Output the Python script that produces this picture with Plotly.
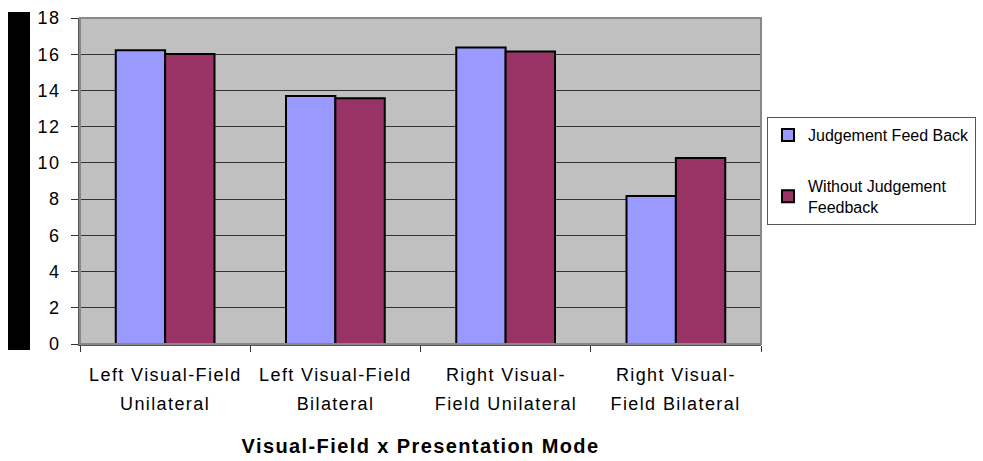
import plotly.graph_objects as go

categories = ["Left Visual-Field<br>Unilateral", "Left Visual-Field<br>Bilateral",
              "Right Visual-<br>Field Unilateral", "Right Visual-<br>Field Bilateral"]
series_names = ["Judgement Feed Back", "Without Judgement<br>Feedback"]
feedback = [16.22, 13.69, 16.37, 8.17]
no_feedback = [16.01, 13.57, 16.15, 10.27]
colors = ["#9999FF", "#993366"]
x_title = "Visual-Field x Presentation Mode"

FONT = "Liberation Sans, Arial, sans-serif"

fig = go.Figure()
for i, (name, vals) in enumerate(zip(series_names, [feedback, no_feedback])):
    fig.add_trace(go.Bar(
        x=categories, y=vals, name=name, legendgroup=f"g{i}",
        marker=dict(color=colors[i], line=dict(color="black", width=2)),
    ))

# category labels drawn as two separate lines (wider line pitch than Plotly's default)
annotations = []
for cat in categories:
    lines = cat.split("<br>")
    for j, line in enumerate(lines):
        annotations.append(dict(
            x=cat, xref="x", y=0, yref="paper", yanchor="top", xanchor="center",
            text=line, showarrow=False, yshift=-19 - 29 * j,
            font=dict(family=FONT, size=18, color="black"),
        ))
annotations.append(dict(
    x=0.5, xref="paper", y=0, yref="paper", yanchor="top", xanchor="center",
    text=f"<b>{x_title}</b>", showarrow=False, yshift=-89,
    font=dict(family=FONT, size=20, color="black"),
))

fig.update_layout(
    template="none",
    width=983, height=461,
    margin=dict(l=80, r=222, t=18, b=117, autoexpand=False),
    paper_bgcolor="white", plot_bgcolor="#C0C0C0",
    font=dict(family=FONT, color="black", size=18),
    barmode="group", bargap=0.42, bargroupgap=0,
    showlegend=True,
    legend=dict(x=(767 - 80) / 681, y=0.696, xanchor="left", yanchor="top",
                bordercolor="#555555", borderwidth=1, bgcolor="white",
                font=dict(size=16, family=FONT), tracegroupgap=27, traceorder="grouped",
                itemwidth=30),
    xaxis=dict(
        tickson="boundaries", ticks="outside", ticklen=6, tickcolor="#333333", tickwidth=1,
        showline=True, linecolor="#555555", linewidth=2, mirror=False,
        showticklabels=False, showgrid=False, zeroline=False, automargin=False,
    ),
    yaxis=dict(
        range=[0, 18], dtick=2, ticks="outside", ticklen=7, tickcolor="#333333", tickwidth=1,
        showgrid=True, gridcolor="#333333", gridwidth=1,
        showline=True, linecolor="#555555", linewidth=2,
        tickfont=dict(size=18, family=FONT), zeroline=False, automargin=False,
        ticklabelstandoff=7,
    ),
    annotations=annotations,
    shapes=[
        dict(type="rect", xref="paper", yref="paper", x0=0, x1=1, y0=0, y1=1,
             line=dict(color="#888888", width=2), fillcolor="rgba(0,0,0,0)", layer="above"),
        dict(type="rect", xref="paper", yref="paper",
             x0=-72/681, x1=-50/681, y0=-6/326, y1=332/326,
             fillcolor="black", line=dict(width=0)),
    ],
)

post = ("document.body.style.margin='0px';"
        "var st=document.createElement('style');"
        "st.textContent='.main-svg text{letter-spacing:1.4px} .main-svg text.legendtext{letter-spacing:0px}';"
        "document.head.appendChild(st);")
fig.write_html("out.html", post_script=post, config={"displayModeBar": False})
